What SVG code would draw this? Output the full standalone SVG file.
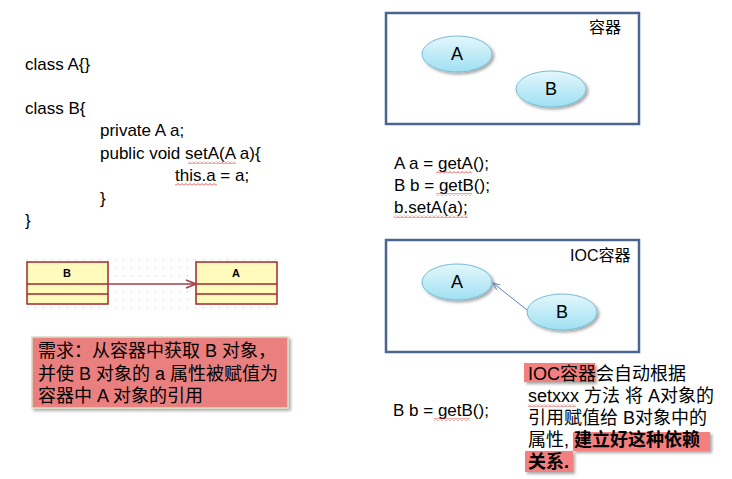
<svg xmlns="http://www.w3.org/2000/svg" width="732" height="479" viewBox="0 0 732 479">
<style>
.code{font-family:"Liberation Sans",Arial,sans-serif;font-size:17px;fill:#000}
.cjk{font-family:"Liberation Sans","Noto Sans CJK SC",sans-serif;fill:#000}
.box{fill:#fff;stroke:#4a6690;stroke-width:2.5}
.ell{fill:url(#eg);stroke:#78bcd2;stroke-width:1}
.lbl{font-family:"Liberation Sans",Arial,sans-serif;font-size:18px;fill:#000;text-anchor:middle}
.uml{fill:#fefbbd;stroke:#a3272f;stroke-width:1.5}
.hl{fill:#f47f7f}
.wave{fill:url(#wv)}
</style>
<defs>
<linearGradient id="eg" x1="0" y1="0" x2="0" y2="1">
<stop offset="0" stop-color="#e4f7fc"/>
<stop offset="1" stop-color="#9fe0f3"/>
</linearGradient>
<pattern id="dots" width="8" height="8" patternUnits="userSpaceOnUse">
<rect x="3" y="3" width="1" height="1" fill="#c8c8c8"/>
</pattern>
<pattern id="wv" width="4" height="3" patternUnits="userSpaceOnUse">
<path d="M0,2.5 L2,0.5 L4,2.5" fill="none" stroke="#e02020" stroke-width="0.8"/>
</pattern>
<marker id="open" markerWidth="12" markerHeight="10" refX="11" refY="5" orient="auto" markerUnits="userSpaceOnUse">
<path d="M1,1 L11,5 L1,9" fill="none" stroke="#a3404a" stroke-width="1.5"/>
</marker>
<marker id="blue" markerWidth="8" markerHeight="8" refX="7" refY="4" orient="auto" markerUnits="userSpaceOnUse">
<path d="M0,1 L7,4 L0,7" fill="none" stroke="#5a82c2" stroke-width="1"/>
</marker>
<filter id="sh" x="-10%" y="-10%" width="130%" height="140%">
<feDropShadow dx="2" dy="2" stdDeviation="1.5" flood-color="#000" flood-opacity="0.35"/>
</filter>
</defs>
<rect width="732" height="479" fill="#fff"/>

<g id="code-left">
<text class="code" x="25" y="70">class A{}</text>
<text class="code" x="25" y="114">class B{</text>
<text class="code" x="100" y="136">private A a;</text>
<text class="code" x="100" y="159">public void setA(A a){</text>
<text class="code" x="175" y="181">this.a = a;</text>
<text class="code" x="100" y="204">}</text>
<text class="code" x="25" y="226">}</text>
<rect class="wave" x="188" y="161" width="48" height="3"/>
<rect class="wave" x="175" y="183" width="42" height="3"/>
</g>

<g id="uml-grid">
<rect x="27" y="257" width="252" height="51" fill="url(#dots)"/>
</g>

<g id="uml-B">
<rect class="uml" x="27" y="262" width="81" height="42"/>
<line class="uml" x1="27" y1="284" x2="108" y2="284"/>
<line class="uml" x1="27" y1="294" x2="108" y2="294"/>
<text x="67" y="277" font-family="Liberation Sans,Arial,sans-serif" font-size="11" font-weight="bold" text-anchor="middle">B</text>
</g>
<g id="uml-A">
<rect class="uml" x="196" y="262" width="81" height="42"/>
<line class="uml" x1="196" y1="284" x2="277" y2="284"/>
<line class="uml" x1="196" y1="294" x2="277" y2="294"/>
<text x="236" y="277" font-family="Liberation Sans,Arial,sans-serif" font-size="11" font-weight="bold" text-anchor="middle">A</text>
</g>

<g id="requirement">
<rect x="32" y="337" width="256" height="71" fill="#e97f7f" stroke="#d6e0c4" stroke-width="1.5" filter="url(#sh)"/>
<text class="cjk" font-size="18" x="38" y="357">需求：从容器中获取 B 对象，</text>
<text class="cjk" font-size="18" x="38" y="380">并使 B 对象的 a 属性被赋值为</text>
<text class="cjk" font-size="18" x="38" y="402">容器中 A 对象的引用</text>
</g>

<g id="container1">
<rect class="box" x="386" y="13" width="253" height="111"/>
<text class="cjk" font-size="16" x="589" y="33">容器</text>
</g>
<g id="c1-A">
<ellipse class="ell" cx="457" cy="54" rx="35" ry="18" filter="url(#sh)"/>
<text class="lbl" x="457" y="60">A</text>
</g>
<g id="c1-B">
<ellipse class="ell" cx="551" cy="89" rx="35" ry="18" filter="url(#sh)"/>
<text class="lbl" x="551" y="95">B</text>
</g>

<g id="code-right">
<text class="code" x="394" y="169">A a = getA();</text>
<text class="code" x="394" y="191">B b = getB();</text>
<text class="code" x="394" y="213">b.setA(a);</text>
<rect class="wave" x="436" y="171" width="36" height="3"/>
<rect class="wave" x="436" y="193" width="36" height="3"/>
<rect class="wave" x="394" y="215" width="74" height="3"/>
</g>

<g id="container2">
<rect class="box" x="386" y="240" width="253" height="112"/>
<text class="cjk" font-size="16" x="570" y="261">IOC容器</text>
</g>
<g id="c2-A">
<ellipse class="ell" cx="457" cy="282" rx="35" ry="18" filter="url(#sh)"/>
<text class="lbl" x="457" y="288">A</text>
</g>
<g id="c2-B">
<ellipse class="ell" cx="562" cy="312" rx="35" ry="18" filter="url(#sh)"/>
<text class="lbl" x="562" y="318">B</text>
</g>

<g id="connectors">
<line x1="108" y1="284" x2="196" y2="284" stroke="#a3404a" stroke-width="1.5" marker-end="url(#open)"/>
<line x1="527" y1="310" x2="493" y2="283" stroke="#5a82c2" stroke-width="1" marker-end="url(#blue)"/>
</g>

<g id="bottom-code">
<text class="code" x="393" y="416">B b = getB();</text>
<rect class="wave" x="434" y="418" width="36" height="3"/>
</g>

<g id="explanation">
<rect class="hl" x="524" y="363" width="71" height="19" filter="url(#sh)"/>
<rect class="hl" x="573" y="432" width="137" height="19" filter="url(#sh)"/>
<rect class="hl" x="525" y="451" width="48" height="21" filter="url(#sh)"/>
<text class="cjk" font-size="18" x="528" y="380">IOC容器会自动根据</text>
<text class="cjk" font-size="18" x="528" y="402">setxxx 方法 将 A对象的</text>
<text class="cjk" font-size="18" x="528" y="424">引用赋值给 B对象中的</text>
<text class="cjk" font-size="18" x="528" y="446">属性, <tspan font-weight="bold">建立好这种依赖</tspan></text>
<text class="cjk" font-size="18" x="528" y="468" font-weight="bold">关系.</text>
<rect class="wave" x="528" y="404" width="48" height="3"/>
</g>
</svg>
